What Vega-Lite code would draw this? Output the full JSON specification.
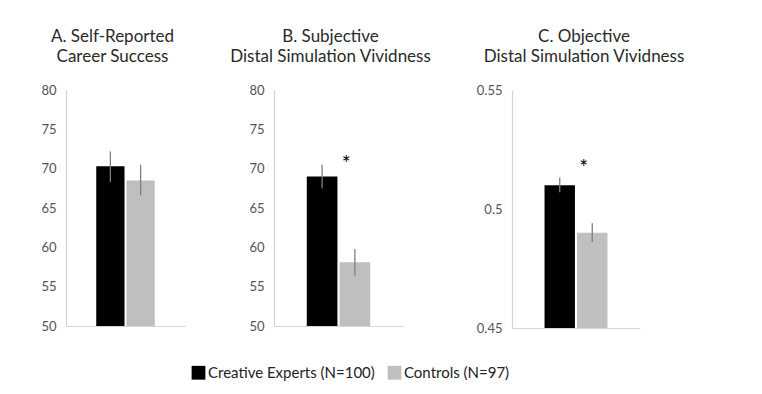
{
  "$schema": "https://vega.github.io/schema/vega-lite/v6.json",
  "background": "white",
  "padding": {"left": 40, "top": 28, "right": 5, "bottom": 5},
  "spacing": 44,
  "bounds": "full",
  "config": {
    "view": {"stroke": null},
    "font": "Lato",
    "title": {"font": "Lato", "fontSize": 17, "fontWeight": "normal", "color": "#2a2a2a", "lineHeight": 20, "anchor": "middle", "frame": "group"},
    "axis": {"labelFont": "Lato", "labelFontSize": 13, "labelColor": "#555555", "domainColor": "#d4d4d4", "domainWidth": 1.2, "ticks": false, "grid": false, "title": null, "labelPadding": 10}
  },
  "datasets": {
    "bars": [
      {"panel": "A", "group": "Creative Experts (N=100)", "mean": 70.3, "lo": 68.3, "hi": 72.2},
      {"panel": "A", "group": "Controls (N=97)", "mean": 68.5, "lo": 66.6, "hi": 70.5},
      {"panel": "B", "group": "Creative Experts (N=100)", "mean": 69.0, "lo": 67.5, "hi": 70.5},
      {"panel": "B", "group": "Controls (N=97)", "mean": 58.1, "lo": 56.4, "hi": 59.8},
      {"panel": "C", "group": "Creative Experts (N=100)", "mean": 0.510, "lo": 0.507, "hi": 0.5132},
      {"panel": "C", "group": "Controls (N=97)", "mean": 0.490, "lo": 0.4861, "hi": 0.4940}
    ],
    "stars": [
      {"panel": "B", "group": "Controls (N=97)", "y": 71.5, "label": "*"},
      {"panel": "C", "group": "Controls (N=97)", "y": 0.5202, "label": "*"}
    ]
  },
  "hconcat": [
    {
      "width": 119, "height": 236,
      "title": {"text": ["A. Self-Reported", "Career Success"], "dx": -13, "offset": 18},
      "encoding": {
        "x": {"field": "group", "type": "nominal", "sort": ["Creative Experts (N=100)", "Controls (N=97)"], "scale": {"paddingInner": 0.065, "paddingOuter": 1.0}, "axis": {"labels": false, "ticks": false, "title": null}}
      },
      "layer": [
        {
          "data": {"name": "bars"},
          "transform": [{"filter": "datum.panel === 'A'"}],
          "mark": {"type": "bar", "clip": true},
          "encoding": {
            "y": {"field": "mean", "type": "quantitative", "scale": {"domain": [50, 80], "zero": false, "nice": false}, "axis": {"values": [50, 55, 60, 65, 70, 75, 80]}},
            "color": {"field": "group", "type": "nominal", "sort": ["Creative Experts (N=100)", "Controls (N=97)"], "scale": {"domain": ["Creative Experts (N=100)", "Controls (N=97)"], "range": ["#000000", "#bfbfbf"]},
              "legend": {"orient": "none", "legendX": 125, "legendY": 275, "direction": "horizontal", "title": null, "symbolType": "square", "symbolSize": 190, "symbolStrokeWidth": 0, "labelFontSize": 15, "labelFont": "Lato", "labelColor": "#222222", "labelOffset": 2, "labelLimit": 400, "columnPadding": 12, "padding": 0}}
          }
        },
        {
          "data": {"name": "bars"},
          "transform": [{"filter": "datum.panel === 'A'"}],
          "mark": {"type": "rule", "color": "#7f7f7f", "strokeWidth": 1.3},
          "encoding": {
            "y": {"field": "lo", "type": "quantitative", "scale": {"domain": [50, 80], "zero": false, "nice": false}, "axis": {"values": [50, 55, 60, 65, 70, 75, 80]}},
            "y2": {"field": "hi"}
          }
        }
      ]
    },
    {
      "width": 129, "height": 236,
      "title": {"text": ["B. Subjective", "Distal Simulation Vividness"], "dx": -8, "offset": 18},
      "encoding": {
        "x": {"field": "group", "type": "nominal", "sort": ["Creative Experts (N=100)", "Controls (N=97)"], "scale": {"paddingInner": 0.065, "paddingOuter": 1.0}, "axis": {"labels": false, "ticks": false, "title": null}}
      },
      "layer": [
        {
          "data": {"name": "bars"},
          "transform": [{"filter": "datum.panel === 'B'"}],
          "mark": {"type": "bar", "clip": true},
          "encoding": {
            "y": {"field": "mean", "type": "quantitative", "scale": {"domain": [50, 80], "zero": false, "nice": false}, "axis": {"values": [50, 55, 60, 65, 70, 75, 80]}},
            "color": {"field": "group", "type": "nominal", "sort": ["Creative Experts (N=100)", "Controls (N=97)"], "scale": {"domain": ["Creative Experts (N=100)", "Controls (N=97)"], "range": ["#000000", "#bfbfbf"]}}
          }
        },
        {
          "data": {"name": "bars"},
          "transform": [{"filter": "datum.panel === 'B'"}],
          "mark": {"type": "rule", "color": "#7f7f7f", "strokeWidth": 1.3},
          "encoding": {
            "y": {"field": "lo", "type": "quantitative", "scale": {"domain": [50, 80], "zero": false, "nice": false}, "axis": {"values": [50, 55, 60, 65, 70, 75, 80]}},
            "y2": {"field": "hi"}
          }
        },
        {
          "data": {"name": "stars"},
          "transform": [{"filter": "datum.panel === 'B'"}],
          "mark": {"type": "text", "fontSize": 21, "font": "Lato", "color": "#000000", "baseline": "middle", "dy": 8},
          "encoding": {
            "x": {"field": "group", "type": "nominal", "bandPosition": 0.22},
            "y": {"field": "y", "type": "quantitative", "scale": {"domain": [50, 80], "zero": false, "nice": false}, "axis": {"values": [50, 55, 60, 65, 70, 75, 80]}},
            "text": {"field": "label"}
          }
        }
      ]
    },
    {
      "width": 128, "height": 238,
      "title": {"text": ["C. Objective", "Distal Simulation Vividness"], "dx": 8, "offset": 18},
      "encoding": {
        "x": {"field": "group", "type": "nominal", "sort": ["Creative Experts (N=100)", "Controls (N=97)"], "scale": {"paddingInner": 0.065, "paddingOuter": 1.0}, "axis": {"labels": false, "ticks": false, "title": null}}
      },
      "layer": [
        {
          "data": {"name": "bars"},
          "transform": [{"filter": "datum.panel === 'C'"}],
          "mark": {"type": "bar", "clip": true},
          "encoding": {
            "y": {"field": "mean", "type": "quantitative", "scale": {"domain": [0.45, 0.55], "zero": false, "nice": false}, "axis": {"values": [0.45, 0.5, 0.55], "format": ".2~f"}},
            "color": {"field": "group", "type": "nominal", "sort": ["Creative Experts (N=100)", "Controls (N=97)"], "scale": {"domain": ["Creative Experts (N=100)", "Controls (N=97)"], "range": ["#000000", "#bfbfbf"]}}
          }
        },
        {
          "data": {"name": "bars"},
          "transform": [{"filter": "datum.panel === 'C'"}],
          "mark": {"type": "rule", "color": "#7f7f7f", "strokeWidth": 1.3},
          "encoding": {
            "y": {"field": "lo", "type": "quantitative", "scale": {"domain": [0.45, 0.55], "zero": false, "nice": false}, "axis": {"values": [0.45, 0.5, 0.55], "format": ".2~f"}},
            "y2": {"field": "hi"}
          }
        },
        {
          "data": {"name": "stars"},
          "transform": [{"filter": "datum.panel === 'C'"}],
          "mark": {"type": "text", "fontSize": 21, "font": "Lato", "color": "#000000", "baseline": "middle", "dy": 8},
          "encoding": {
            "x": {"field": "group", "type": "nominal", "bandPosition": 0.22},
            "y": {"field": "y", "type": "quantitative", "scale": {"domain": [0.45, 0.55], "zero": false, "nice": false}, "axis": {"values": [0.45, 0.5, 0.55], "format": ".2~f"}},
            "text": {"field": "label"}
          }
        }
      ]
    }
  ]
}
